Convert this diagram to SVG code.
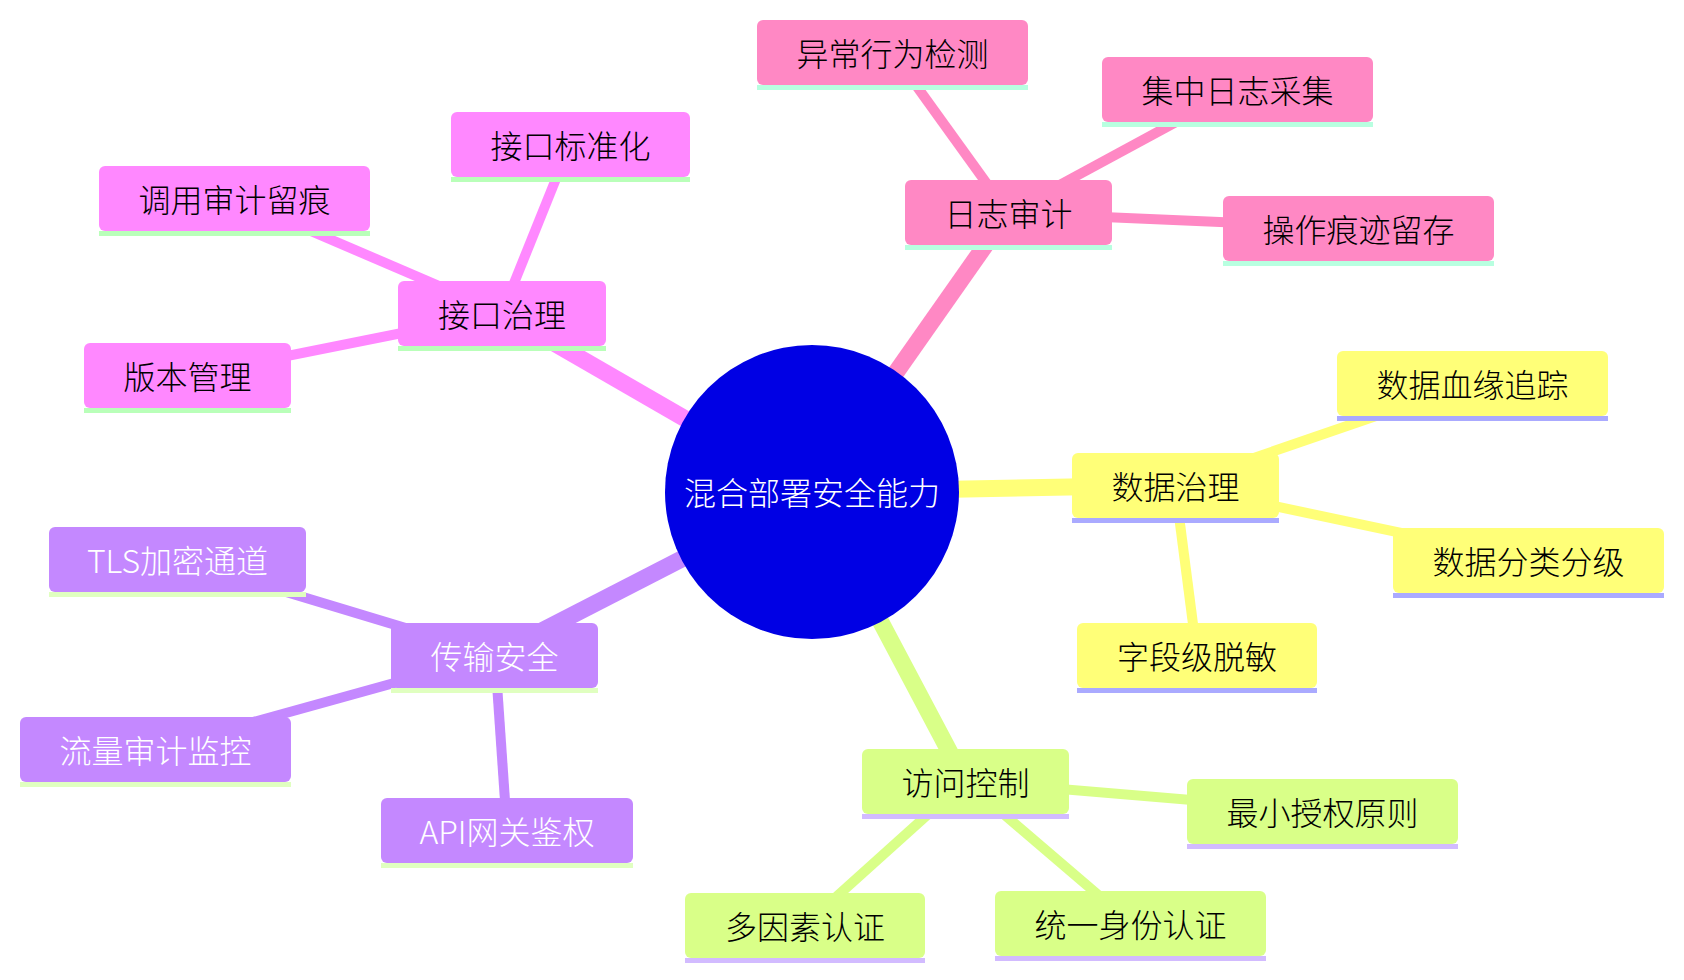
<svg xmlns="http://www.w3.org/2000/svg" width="1684" height="980" viewBox="0 0 1684 980">
<style>
text{font-family:"Noto Sans CJK SC","Noto Sans",sans-serif;font-size:32px;font-weight:300;text-anchor:middle;dominant-baseline:central;fill:#000}
.root text{fill:#fff}
.s4 text{fill:#fff}
.b{rx:6;ry:6}
.s0 .b{fill:#ff88ff}.s0 .u{fill:#b9ffb9}
.s1 .b{fill:#ff88c4}.s1 .u{fill:#b8ffe0}
.s2 .b{fill:#ffff78}.s2 .u{fill:#aaaaff}
.s3 .b{fill:#d9ff88}.s3 .u{fill:#d2bbff}
.s4 .b{fill:#c488ff}.s4 .u{fill:#e0ffc0}
.e{fill:none;stroke-linecap:butt}
.e0{stroke-width:17}.e1{stroke-width:10}
.c0{stroke:#ff88ff}.c1{stroke:#ff88c4}.c2{stroke:#ffff78}.c3{stroke:#d9ff88}.c4{stroke:#c488ff}
</style>
<rect width="1684" height="980" fill="#fff"/>
<g id="edges">
<line class="e e0 c0" x1="812" y1="492" x2="502" y2="313"/>
<line class="e e1 c0" x1="502" y1="313" x2="570" y2="144"/>
<line class="e e1 c0" x1="502" y1="313" x2="234" y2="198"/>
<line class="e e1 c0" x1="502" y1="313" x2="187" y2="376"/>
<line class="e e0 c1" x1="812" y1="492" x2="1008" y2="213"/>
<line class="e e1 c1" x1="1008" y1="213" x2="892" y2="52"/>
<line class="e e1 c1" x1="1008" y1="213" x2="1237" y2="89"/>
<line class="e e1 c1" x1="1008" y1="213" x2="1358" y2="228"/>
<line class="e e0 c2" x1="812" y1="492" x2="1175" y2="485"/>
<line class="e e1 c2" x1="1175" y1="485" x2="1472" y2="383"/>
<line class="e e1 c2" x1="1175" y1="485" x2="1529" y2="560"/>
<line class="e e1 c2" x1="1175" y1="485" x2="1197" y2="655"/>
<line class="e e0 c3" x1="812" y1="492" x2="965" y2="781"/>
<line class="e e1 c3" x1="965" y1="781" x2="1322" y2="811"/>
<line class="e e1 c3" x1="965" y1="781" x2="805" y2="925"/>
<line class="e e1 c3" x1="965" y1="781" x2="1131" y2="923"/>
<line class="e e0 c4" x1="812" y1="492" x2="495" y2="655"/>
<line class="e e1 c4" x1="495" y1="655" x2="177" y2="559"/>
<line class="e e1 c4" x1="495" y1="655" x2="156" y2="749"/>
<line class="e e1 c4" x1="495" y1="655" x2="507" y2="830"/>
</g>
<g id="root" class="root">
<circle cx="812" cy="492" r="147" fill="#0000e4"/>
<text x="812" y="491">混合部署安全能力</text>
</g>
<g id="n-jkzl" class="s0"><rect class="b" x="398" y="281" width="208" height="65"/><rect class="u" x="398" y="346" width="208" height="5"/><text x="502" y="312.5">接口治理</text></g>
<g id="n-jkbzh" class="s0"><rect class="b" x="451" y="112" width="239" height="65"/><rect class="u" x="451" y="177" width="239" height="5"/><text x="570.5" y="143.5">接口标准化</text></g>
<g id="n-dysjlh" class="s0"><rect class="b" x="99" y="166" width="271" height="65"/><rect class="u" x="99" y="231" width="271" height="5"/><text x="234.5" y="197.5">调用审计留痕</text></g>
<g id="n-bbgl" class="s0"><rect class="b" x="84" y="343" width="207" height="65"/><rect class="u" x="84" y="408" width="207" height="5"/><text x="187.5" y="374.5">版本管理</text></g>
<g id="n-rzsj" class="s1"><rect class="b" x="905" y="180" width="207" height="65"/><rect class="u" x="905" y="245" width="207" height="5"/><text x="1008.5" y="211.5">日志审计</text></g>
<g id="n-ycxwjc" class="s1"><rect class="b" x="757" y="20" width="271" height="65"/><rect class="u" x="757" y="85" width="271" height="5"/><text x="892.5" y="51.5">异常行为检测</text></g>
<g id="n-jzrzcj" class="s1"><rect class="b" x="1102" y="57" width="271" height="65"/><rect class="u" x="1102" y="122" width="271" height="5"/><text x="1237.5" y="88.5">集中日志采集</text></g>
<g id="n-czhjlc" class="s1"><rect class="b" x="1223" y="196" width="271" height="65"/><rect class="u" x="1223" y="261" width="271" height="5"/><text x="1358.5" y="227.5">操作痕迹留存</text></g>
<g id="n-sjzl" class="s2"><rect class="b" x="1072" y="453" width="207" height="65"/><rect class="u" x="1072" y="518" width="207" height="5"/><text x="1175.5" y="484.5">数据治理</text></g>
<g id="n-sjxyzz" class="s2"><rect class="b" x="1337" y="351" width="271" height="65"/><rect class="u" x="1337" y="416" width="271" height="5"/><text x="1472.5" y="382.5">数据血缘追踪</text></g>
<g id="n-sjflfj" class="s2"><rect class="b" x="1393" y="528" width="271" height="65"/><rect class="u" x="1393" y="593" width="271" height="5"/><text x="1528.5" y="559.5">数据分类分级</text></g>
<g id="n-zdjtm" class="s2"><rect class="b" x="1077" y="623" width="240" height="65"/><rect class="u" x="1077" y="688" width="240" height="5"/><text x="1197" y="654.5">字段级脱敏</text></g>
<g id="n-fwkz" class="s3"><rect class="b" x="862" y="749" width="207" height="65"/><rect class="u" x="862" y="814" width="207" height="5"/><text x="965.5" y="780.5">访问控制</text></g>
<g id="n-zxsqyz" class="s3"><rect class="b" x="1187" y="779" width="271" height="65"/><rect class="u" x="1187" y="844" width="271" height="5"/><text x="1322.5" y="810.5">最小授权原则</text></g>
<g id="n-dysrz" class="s3"><rect class="b" x="685" y="893" width="240" height="65"/><rect class="u" x="685" y="958" width="240" height="5"/><text x="805" y="924.5">多因素认证</text></g>
<g id="n-tysfrz" class="s3"><rect class="b" x="995" y="891" width="271" height="65"/><rect class="u" x="995" y="956" width="271" height="5"/><text x="1130.5" y="922.5">统一身份认证</text></g>
<g id="n-csaq" class="s4"><rect class="b" x="391" y="623" width="207" height="65"/><rect class="u" x="391" y="688" width="207" height="5"/><text x="494.5" y="654.5">传输安全</text></g>
<g id="n-tls" class="s4"><rect class="b" x="49" y="527" width="257" height="65"/><rect class="u" x="49" y="592" width="257" height="5"/><text x="177.5" y="558.5">TLS加密通道</text></g>
<g id="n-llsjjk" class="s4"><rect class="b" x="20" y="717" width="271" height="65"/><rect class="u" x="20" y="782" width="271" height="5"/><text x="155.5" y="748.5">流量审计监控</text></g>
<g id="n-api" class="s4"><rect class="b" x="381" y="798" width="252" height="65"/><rect class="u" x="381" y="863" width="252" height="5"/><text x="507" y="829.5">API网关鉴权</text></g>
</svg>
